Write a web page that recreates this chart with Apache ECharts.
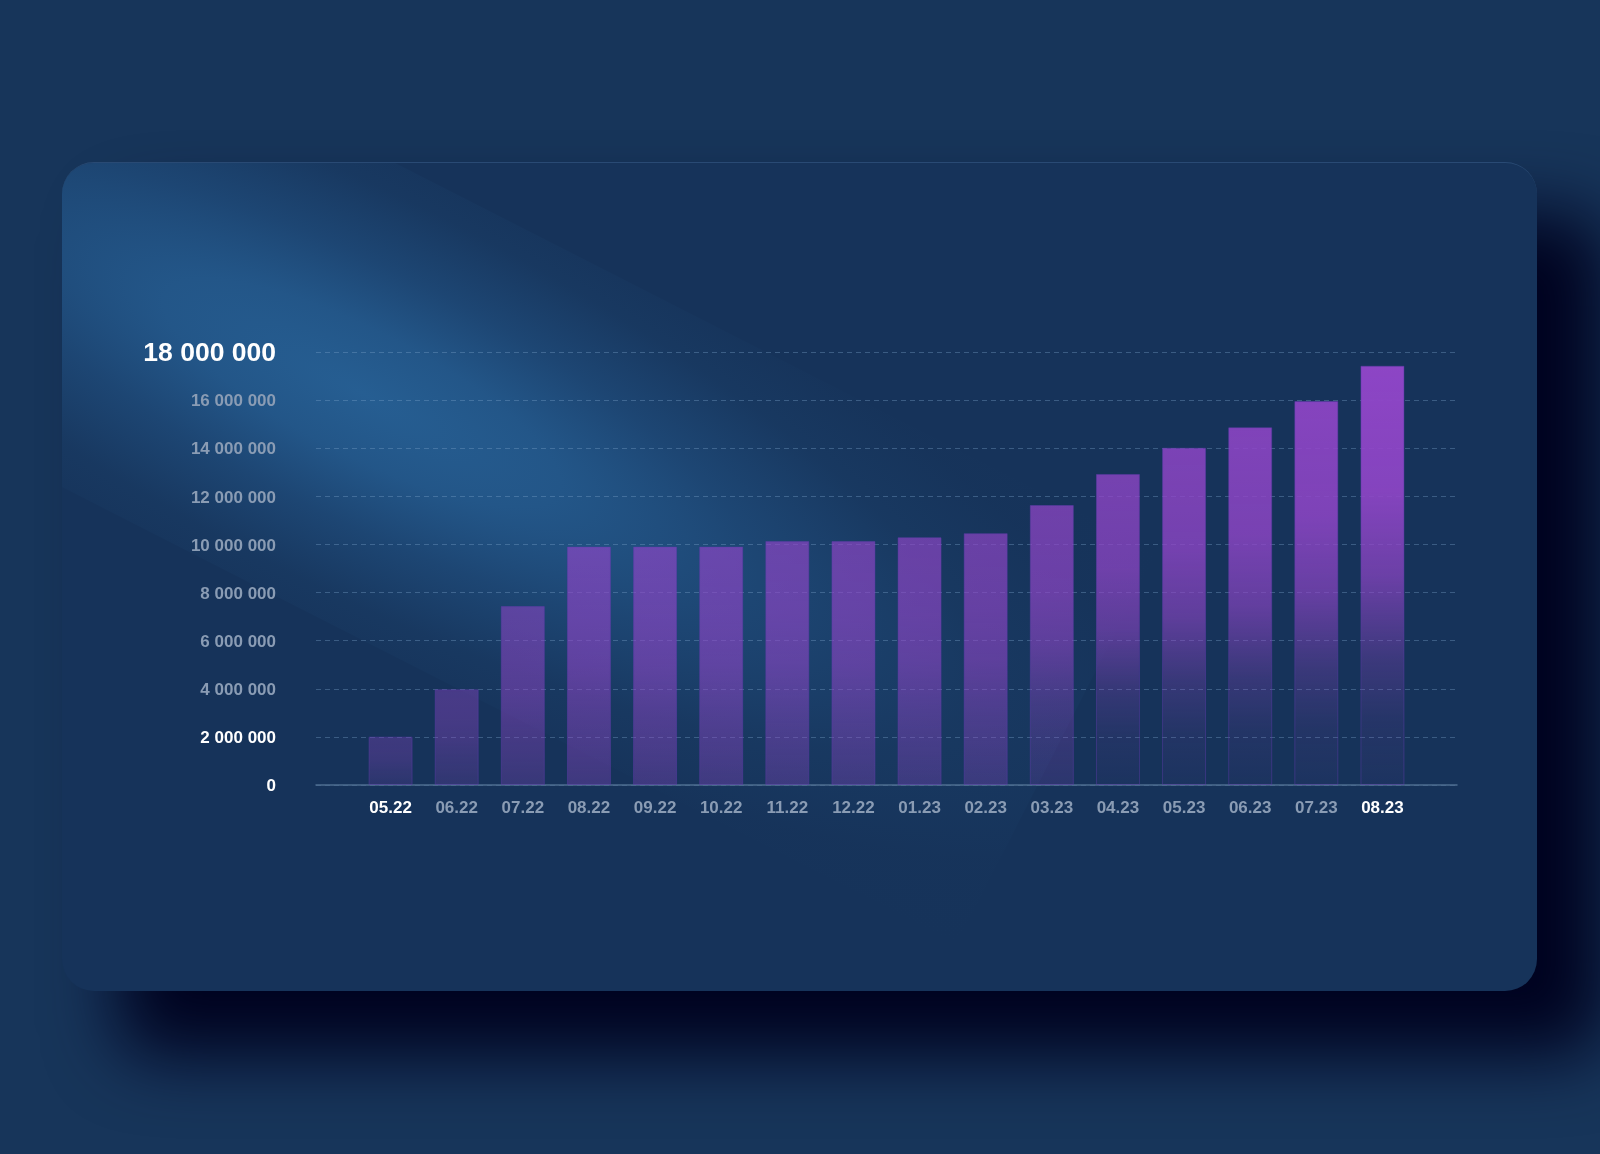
<!DOCTYPE html>
<html>
<head>
<meta charset="utf-8">
<script src="https://cdn.jsdelivr.net/npm/echarts@6/dist/echarts.min.js"></script>
<style>
  html, body { margin: 0; padding: 0; width: 1600px; height: 1154px; overflow: hidden; background: #17355a; }
  #card {
    position: absolute; left: 62px; top: 162px; width: 1475px; height: 829px;
    border-radius: 32px; background: #16335a; overflow: hidden;
    box-shadow: 62px 58px 70px 6px rgb(0, 3, 32);
    border-top: 1px solid rgba(110, 160, 210, 0.22);
    box-sizing: border-box;
  }
  #glow {
    position: absolute; left: -480px; top: 10px; width: 1560px; height: 440px;
    transform: rotate(27deg); transform-origin: 780px 220px;
    background: radial-gradient(ellipse at center,
      rgba(38, 94, 146, 1) 0%,
      rgba(36, 89, 140, 0.92) 20%,
      rgba(32, 78, 126, 0.7) 40%,
      rgba(27, 64, 106, 0.42) 62%,
      rgba(24, 55, 94, 0.15) 82%,
      rgba(22, 51, 90, 0) 100%);
  }
  #chart { position: absolute; left: 0; top: 0; width: 1600px; height: 1154px; }
</style>
</head>
<body>
<div id="card"><div id="glow"></div></div>
<div id="chart"></div>
<script>
const categories = ['05.22','06.22','07.22','08.22','09.22','10.22','11.22','12.22','01.23','02.23','03.23','04.23','05.23','06.23','07.23','08.23'];
const values = [2010000, 3980000, 7440000, 9910000, 9910000, 9910000, 10140000, 10140000, 10300000, 10470000, 11640000, 12930000, 14020000, 14870000, 15960000, 17430000];
const yTickLabels = ['0','2 000 000','4 000 000','6 000 000','8 000 000','10 000 000','12 000 000','14 000 000','16 000 000','18 000 000'];
const highlightedCategories = ['05.22','08.23'];
const yMax = 18000000;
const yStep = 2000000;

function lerp(a, b, k) { return a + (b - a) * k; }
function barStyle(v) {
  const t = v / yMax;
  const k = Math.max(0, Math.min(1, (t - 0.55) / 0.17));
  const aTop = 0.25 + 0.75 * t;
  const offs = [0, 0.3, 0.5, 0.7, 0.85, 1];
  const m0 = [1, 0.95, 0.88, 0.72, 0.62, 0.5];
  const m1 = [1, 0.93, 0.72, 0.32, 0.13, 0.06];
  return {
    color: {
      type: 'linear', x: 0, y: 0, x2: 0, y2: 1,
      colorStops: offs.map((o, i) => ({ offset: o, color: 'rgba(144,70,200,' + (aTop * lerp(m0[i], m1[i], k)).toFixed(3) + ')' }))
    },
    borderColor: 'rgba(95,60,170,0.45)',
    borderWidth: 1
  };
}

const font = 'Liberation Sans, Arial, sans-serif';
const chart = echarts.init(document.getElementById('chart'), null, { renderer: 'canvas' });
chart.setOption({
  backgroundColor: 'transparent',
  animation: false,
  grid: [
    { left: 316, right: 143, top: 352, bottom: 369 },
    { left: 357.5, right: 184.5, top: 352, bottom: 369 }
  ],
  xAxis: [
    {
      gridIndex: 0, type: 'category', data: categories,
      axisLine: { show: true, lineStyle: { color: '#4d6d90', width: 1.5 } },
      axisTick: { show: false }, axisLabel: { show: false }, splitLine: { show: false }
    },
    {
      gridIndex: 1, type: 'category', data: categories,
      axisLine: { show: false }, axisTick: { show: false }, splitLine: { show: false },
      axisLabel: {
        interval: 0, margin: 15,
        formatter: (v) => highlightedCategories.includes(v) ? '{w|' + v + '}' : '{g|' + v + '}',
        rich: {
          w: { color: '#ffffff', fontSize: 17, fontWeight: 'bold', fontFamily: font },
          g: { color: '#8a9cb4', fontSize: 17, fontWeight: 'bold', fontFamily: font }
        }
      }
    }
  ],
  yAxis: [
    {
      gridIndex: 0, type: 'value', min: 0, max: yMax, interval: yStep,
      axisLine: { show: false }, axisTick: { show: false },
      splitLine: { show: true, lineStyle: { color: 'rgba(120,160,200,0.38)', width: 1, type: [5, 4] } },
      axisLabel: {
        margin: 40,
        formatter: (v) => {
          const i = Math.round(v / yStep);
          const s = yTickLabels[i];
          if (i === 9) return '{big|' + s + '}';
          if (i <= 1) return '{w|' + s + '}';
          return '{g|' + s + '}';
        },
        rich: {
          big: { color: '#ffffff', fontSize: 26.5, fontWeight: 'bold', fontFamily: font, padding: [3, 0, 0, 0] },
          w: { color: '#ffffff', fontSize: 17, fontWeight: 'bold', fontFamily: font, padding: [3, 0, 0, 0] },
          g: { color: '#8a9cb4', fontSize: 17, fontWeight: 'bold', fontFamily: font, padding: [3, 0, 0, 0] }
        }
      }
    },
    {
      gridIndex: 1, type: 'value', min: 0, max: yMax, interval: yStep, show: false,
      splitLine: { show: false }
    }
  ],
  series: [
    {
      type: 'bar', xAxisIndex: 1, yAxisIndex: 1, barWidth: 44,
      data: values.map(v => ({ value: v, itemStyle: barStyle(v) }))
    }
  ]
});
</script>
</body>
</html>
